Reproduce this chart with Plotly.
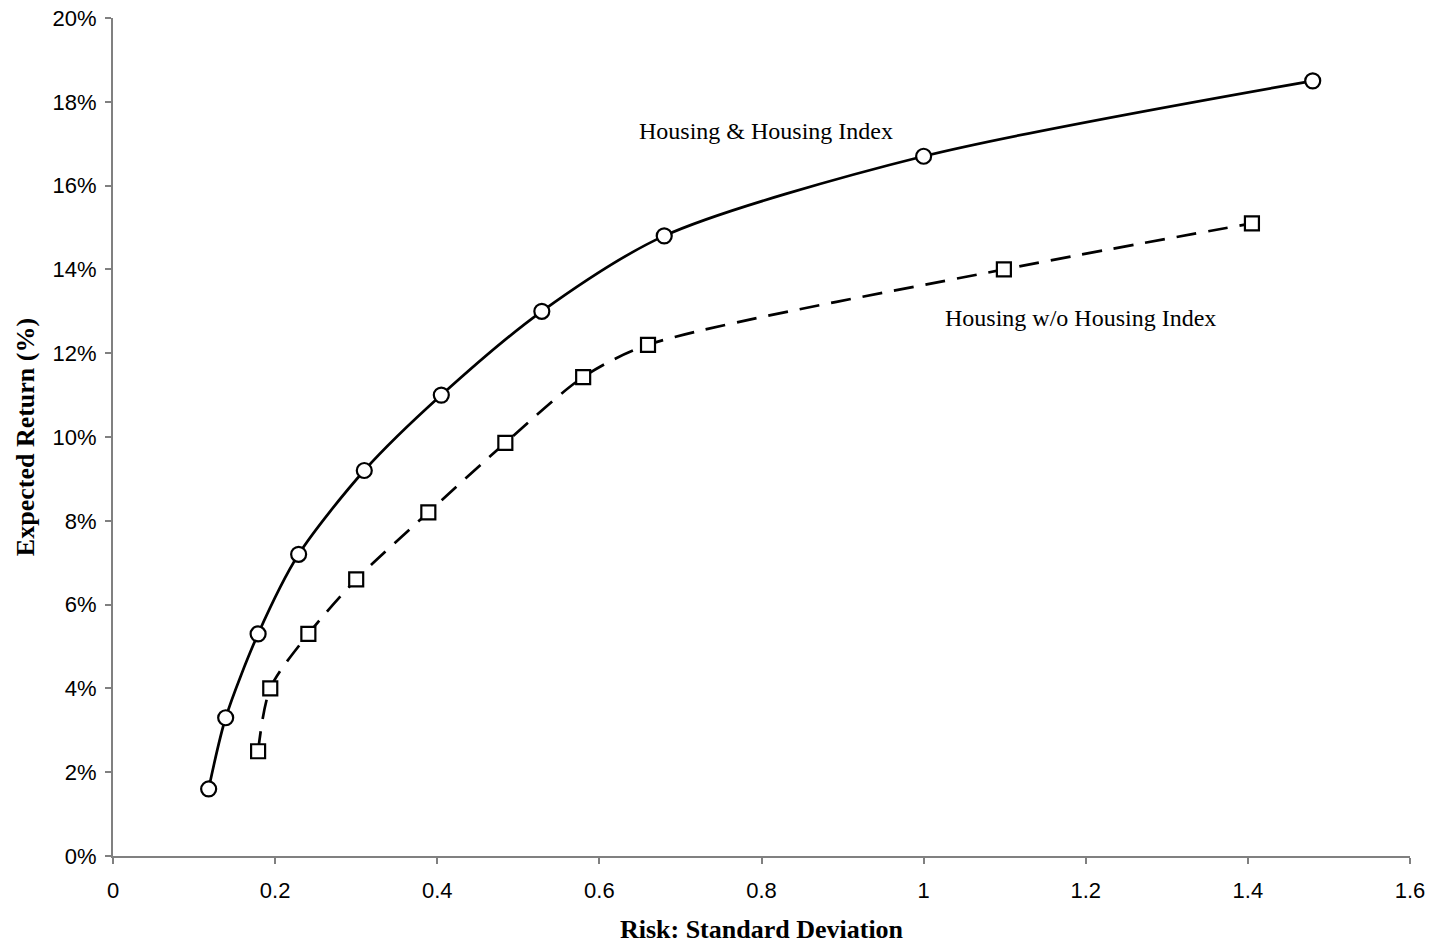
import plotly.graph_objects as go

# Data
risk_with = [0.118, 0.139, 0.179, 0.229, 0.310, 0.405, 0.529, 0.680, 1.000, 1.480]
ret_with = [0.016, 0.033, 0.053, 0.072, 0.092, 0.110, 0.130, 0.148, 0.167, 0.185]

risk_without = [0.179, 0.194, 0.241, 0.300, 0.389, 0.484, 0.580, 0.660, 1.099, 1.405]
ret_without = [0.025, 0.040, 0.053, 0.066, 0.082, 0.0986, 0.1143, 0.122, 0.140, 0.151]

x_ticks = [0, 0.2, 0.4, 0.6, 0.8, 1.0, 1.2, 1.4, 1.6]
x_tick_labels = ["0", "0.2", "0.4", "0.6", "0.8", "1", "1.2", "1.4", "1.6"]
y_ticks = [0, 0.02, 0.04, 0.06, 0.08, 0.10, 0.12, 0.14, 0.16, 0.18, 0.20]
y_tick_labels = ["0%", "2%", "4%", "6%", "8%", "10%", "12%", "14%", "16%", "18%", "20%"]

fig = go.Figure()
fig.add_trace(go.Scatter(
    x=risk_with, y=ret_with, mode="lines+markers",
    line=dict(color="black", width=2.7, shape="spline", smoothing=0.8),
    marker=dict(symbol="circle", size=15, color="white", line=dict(color="black", width=2.2)),
    name="Housing & Housing Index", showlegend=False,
))
fig.add_trace(go.Scatter(
    x=risk_without, y=ret_without, mode="lines+markers",
    line=dict(color="black", width=2.7, shape="spline", smoothing=0.8, dash="20px,12px"),
    marker=dict(symbol="square", size=14, color="white", line=dict(color="black", width=2.2)),
    name="Housing w/o Housing Index", showlegend=False,
))

fig.add_annotation(x=0.805, y=0.173, text="Housing & Housing Index", showarrow=False,
                   font=dict(family="Liberation Serif", size=24, color="black"))
fig.add_annotation(x=1.194, y=0.1283, text="Housing w/o Housing Index", showarrow=False,
                   font=dict(family="Liberation Serif", size=24, color="black"))

axis_common = dict(showgrid=False, zeroline=False, showline=True, linecolor="#808080", linewidth=2,
                   ticks="outside", ticklen=6, tickcolor="#808080", tickwidth=2,
                   automargin=False,
                   tickfont=dict(family="Liberation Sans", size=22, color="black"))

fig.update_xaxes(range=[0, 1.6], tickvals=x_ticks, ticktext=x_tick_labels, ticklabelstandoff=8,
                 title=dict(text="<b>Risk: Standard Deviation</b>", standoff=17,
                            font=dict(family="Liberation Serif", size=26, color="black")),
                 **axis_common)
fig.update_yaxes(range=[0, 0.20], tickvals=y_ticks, ticktext=y_tick_labels, ticklabelstandoff=4,
                 title=dict(text="<b>Expected Return (%)</b>", standoff=10,
                            font=dict(family="Liberation Serif", size=26, color="black")),
                 **axis_common)

fig.update_layout(
    width=1436, height=946,
    margin=dict(l=113, r=26, t=18, b=90),
    plot_bgcolor="white", paper_bgcolor="white",
)

fig.write_html("out.html", config={"displayModeBar": False},
               post_script="document.body.style.margin='0';document.body.style.overflow='hidden';")
